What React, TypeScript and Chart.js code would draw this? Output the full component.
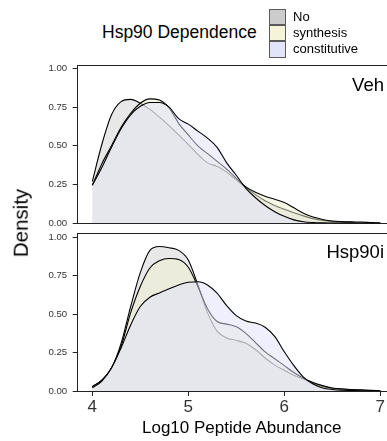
import React, { useEffect, useRef } from "react";
import { Chart, registerables } from "chart.js";

Chart.register(...registerables);

// ---------- data ----------
const xs = [4.0, 4.1, 4.2, 4.3, 4.4, 4.5, 4.6, 4.7, 4.8, 4.9, 5.0, 5.1, 5.2, 5.3, 5.4, 5.5, 5.6, 5.7, 5.8, 5.9, 6.0, 6.1, 6.2, 6.3, 6.4, 6.5, 6.6, 6.7, 6.8, 6.9, 7.0];

const vehNo = [0.27, 0.51, 0.70, 0.785, 0.80, 0.775, 0.735, 0.685, 0.63, 0.57, 0.51, 0.445, 0.39, 0.368, 0.33, 0.28, 0.23, 0.185, 0.145, 0.115, 0.09, 0.068, 0.048, 0.03, 0.018, 0.011, 0.008, 0.006, 0.005, 0.003, 0.001];
const vehSynthesis = [0.245, 0.385, 0.50, 0.62, 0.71, 0.775, 0.803, 0.795, 0.745, 0.645, 0.57, 0.50, 0.45, 0.40, 0.35, 0.29, 0.235, 0.20, 0.175, 0.155, 0.135, 0.10, 0.065, 0.04, 0.025, 0.015, 0.011, 0.009, 0.008, 0.005, 0.002];
const vehConstitutive = [0.245, 0.36, 0.49, 0.61, 0.70, 0.755, 0.78, 0.78, 0.75, 0.675, 0.64, 0.595, 0.55, 0.49, 0.39, 0.31, 0.225, 0.165, 0.115, 0.075, 0.045, 0.022, 0.01, 0.005, 0.003, 0.002, 0.001, 0.001, 0.0, 0.0, 0.0];

const hspNo = [0.028, 0.07, 0.15, 0.31, 0.55, 0.77, 0.915, 0.94, 0.932, 0.915, 0.852, 0.69, 0.51, 0.39, 0.345, 0.33, 0.31, 0.27, 0.215, 0.17, 0.135, 0.103, 0.078, 0.05, 0.03, 0.018, 0.012, 0.008, 0.005, 0.003, 0.001];
const hspSynthesis = [0.028, 0.07, 0.15, 0.29, 0.51, 0.68, 0.80, 0.848, 0.862, 0.855, 0.805, 0.68, 0.535, 0.452, 0.435, 0.418, 0.375, 0.315, 0.255, 0.21, 0.165, 0.12, 0.083, 0.055, 0.035, 0.02, 0.013, 0.009, 0.007, 0.004, 0.002];
const hspConstitutive = [0.02, 0.065, 0.15, 0.28, 0.43, 0.55, 0.61, 0.638, 0.665, 0.69, 0.708, 0.711, 0.69, 0.636, 0.555, 0.49, 0.455, 0.442, 0.415, 0.355, 0.255, 0.165, 0.09, 0.045, 0.02, 0.01, 0.005, 0.003, 0.001, 0.0, 0.0];

const seriesNames = ["No", "synthesis", "constitutive"];
const panelNames = ["Veh", "Hsp90i"];
const xTicks = [4, 5, 6, 7];
const yTicks = [0, 0.25, 0.5, 0.75, 1];
const legendTitle = "Hsp90 Dependence";
const xTitle = "Log10 Peptide Abundance";
const yTitle = "Density";

// ---------- styles ----------
const FONT = '"Liberation Sans", Arial, Helvetica, sans-serif';
const fillColors = ["rgba(204,204,204,0.45)", "rgba(240,240,210,0.5)", "rgba(224,224,253,0.5)"];
const keyColors = ["#cccccc", "#f4f4d6", "#e4e4f9"];
const axisColor = "#222";
const xMin = 3.848;
const xMax = 7.07;

type PanelCfg = {
  values: number[][];
  top: number;
  height: number;
  padTop: number;
  xAxisHeight: number;
  yMax: number;
  showX: boolean;
};

function makeChart(canvas: HTMLCanvasElement, cfg: PanelCfg) {
  return new Chart(canvas, {
    type: "line",
    data: {
      datasets: cfg.values.map((vals, i) => ({
        label: seriesNames[i],
        data: xs.map((x, j) => ({ x, y: vals[j] })),
        borderColor: "#000",
        borderWidth: 1.1,
        backgroundColor: fillColors[i],
        fill: "origin",
        pointRadius: 0,
        cubicInterpolationMode: "monotone" as const,
        order: cfg.values.length - i,
      })),
    },
    options: {
      animation: false,
      responsive: false,
      maintainAspectRatio: false,
      devicePixelRatio: 1,
      events: [],
      layout: { padding: { top: cfg.padTop, left: 0, right: 0, bottom: 0 } },
      plugins: { legend: { display: false }, tooltip: { enabled: false }, title: { display: false } },
      scales: {
        x: {
          type: "linear",
          position: "bottom",
          min: xMin,
          max: xMax,
          afterBuildTicks: (s: any) => {
            s.ticks = xTicks.map((v) => ({ value: v }));
          },
          afterFit: (s: any) => {
            s.height = cfg.xAxisHeight;
          },
          grid: { display: cfg.showX, drawOnChartArea: false, drawTicks: true, tickLength: 5, color: axisColor, lineWidth: 1 },
          border: { display: true, color: axisColor, width: 1 },
          ticks: {
            display: cfg.showX,
            autoSkip: false,
            maxRotation: 0,
            padding: 1,
            color: "#333",
            font: { family: FONT, size: 17 },
            callback: (v: any) => String(v),
          },
        },
        xTop: {
          type: "linear",
          position: "top",
          display: true,
          min: xMin,
          max: xMax,
          afterFit: (s: any) => {
            s.height = 0;
          },
          grid: { display: false },
          border: { display: true, color: axisColor, width: 1 },
          ticks: { display: false },
        },
        y: {
          type: "linear",
          min: 0,
          max: cfg.yMax,
          afterBuildTicks: (s: any) => {
            s.ticks = yTicks.map((v) => ({ value: v }));
          },
          afterFit: (s: any) => {
            s.width = 77.7;
          },
          grid: { display: true, drawOnChartArea: false, drawTicks: true, tickLength: 5, color: axisColor, lineWidth: 1 },
          border: { display: true, color: axisColor, width: 1 },
          ticks: {
            padding: 5.5,
            color: "#333",
            font: { family: FONT, size: 9.6 },
            callback: (v: any) => Number(v).toFixed(2),
          },
        },
      },
    } as any,
  });
}

function Panel({ cfg }: { cfg: PanelCfg }) {
  const ref = useRef<HTMLCanvasElement | null>(null);
  useEffect(() => {
    if (!ref.current) return;
    const chart = makeChart(ref.current, cfg);
    return () => chart.destroy();
  }, []);
  return (
    <canvas
      ref={ref}
      width={387}
      height={cfg.height}
      style={{ position: "absolute", left: 0, top: cfg.top, width: 387, height: cfg.height }}
    />
  );
}

const panels: PanelCfg[] = [
  { values: [vehNo, vehSynthesis, vehConstitutive], top: 50, height: 186, padTop: 15.7, xAxisHeight: 12.7, yMax: 1.017, showX: false },
  { values: [hspNo, hspSynthesis, hspConstitutive], top: 220, height: 221, padTop: 13.3, xAxisHeight: 50, yMax: 1.026, showX: true },
];

const panelLabelTops = [76, 242.6];

export default function App() {
  const text: React.CSSProperties = { position: "absolute", fontFamily: FONT, lineHeight: 1, whiteSpace: "nowrap", color: "#000" };
  return (
    <div style={{ position: "absolute", left: 0, top: 0, width: 387, height: 441, overflow: "hidden", background: "#fff" }}>
      {panels.map((p, i) => (
        <Panel key={i} cfg={p} />
      ))}
      {panelNames.map((n, i) => (
        <div key={n} style={{ ...text, fontSize: 18.5, right: 3, top: panelLabelTops[i] }}>
          {n}
        </div>
      ))}
      <div style={{ ...text, fontSize: 17.5, left: 102, top: 23.5 }}>{legendTitle}</div>
      {seriesNames.map((n, i) => (
        <React.Fragment key={n}>
          <div
            style={{
              position: "absolute",
              left: 269,
              top: 9 + i * 16.1,
              width: 16.5,
              height: 16.4,
              boxSizing: "border-box",
              border: "1.5px solid #5a5a5a",
              background: keyColors[i],
            }}
          />
          <div style={{ ...text, fontSize: 13, left: 293, top: 9.7 + i * 16.1 }}>{n}</div>
        </React.Fragment>
      ))}
      <div style={{ ...text, fontSize: 17, left: 142, top: 418.9 }}>{xTitle}</div>
      <div
        style={{
          ...text,
          fontSize: 20.5,
          left: 20.8,
          top: 222.5,
          transform: "translate(-50%, -50%) rotate(-90deg)",
        }}
      >
        {yTitle}
      </div>
    </div>
  );
}
